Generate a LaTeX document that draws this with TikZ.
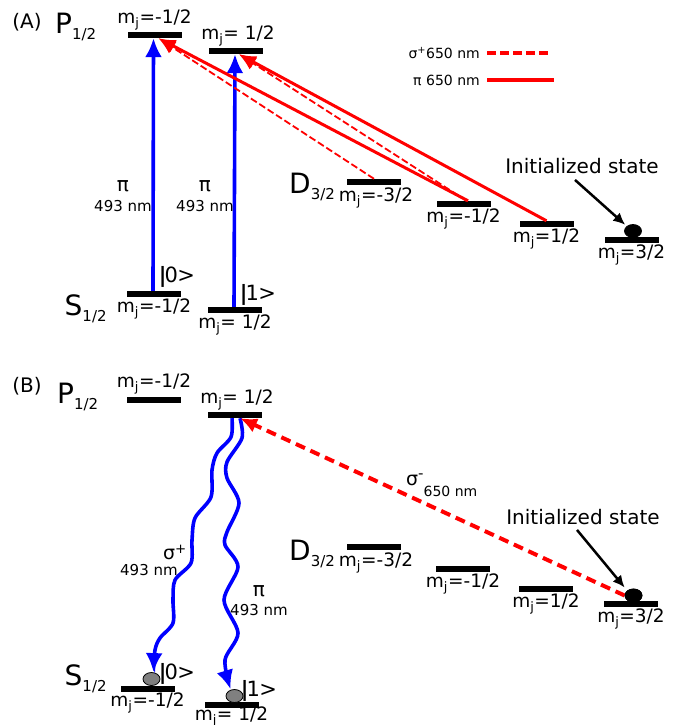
\documentclass[tikz,border=0pt]{standalone}
\usepackage{fontspec}
\setmainfont{DejaVu Sans}
\usetikzlibrary{arrows.meta,shapes.geometric}
\newcommand{\fs}[1]{\fontsize{#1}{#1}\selectfont}
\newcommand{\mjtxt}[1]{m\textsubscript{j}#1}
\newcommand{\termtxt}[2]{{\fs{28}#1}\raisebox{-6pt}{\fs{15}#2}}
\newcommand{\kettxt}[1]{{\fs{21}{\bfseries |}\kern-2pt#1\kern-0.5pt>}}
\begin{document}
\begin{tikzpicture}[x=1pt,y=-1pt,
  bar/.style={rectangle,fill=black,inner sep=0pt,minimum width=54pt,minimum height=6pt},
  mjl/.style={inner sep=0pt,anchor=base,font=\fs{18.5}},
  term/.style={inner sep=0pt,anchor=base west},
  txt/.style={inner sep=0pt},
  blu/.style={draw=blue,line width=3.6pt},
  bluetip/.style={-{Latex[length=19pt,width=17pt]}},
  redsolid/.style={draw=red,line width=3pt,-{Latex[length=17pt,width=14pt]}},
  reddash/.style={draw=red,line width=1.8pt,dash pattern=on 7pt off 3pt,-{Latex[length=17pt,width=14pt]}},
  ball/.style={ellipse,draw=black,line width=0.8pt,inner sep=0pt,minimum width=17pt,minimum height=13pt},
  initarrow/.style={draw=black,line width=2.5pt,-{Latex[length=12pt,width=11pt]},shorten >=2pt}
]
\useasboundingbox (0,0) rectangle (678,725);

% ================= (A) =================
\node[txt,font=\fs{20}] (tA) at (27,22) {(A)};
\node[term] (PAt) at (55,34) {\termtxt{P}{1/2}};
\node[term] (SAt) at (64.5,315) {\termtxt{S}{1/2}};
\node[term] (DAt) at (289,193) {\termtxt{D}{3/2}};

\node[bar] (PA1) at (154.5,35) {};
\node[bar] (PA2) at (236,51) {};
\node[bar] (SA1) at (154,294) {};
\node[bar] (SA2) at (235,310) {};
\node[bar] (DA1) at (374,182) {};
\node[bar] (DA2) at (463.5,204) {};
\node[bar] (DA3) at (546.5,224) {};
\node[bar] (DA4) at (631.5,240) {};

\node[mjl] (lPA1) at ([yshift=8.5pt]PA1.north) {\mjtxt{=-1/2}};
\node[mjl] (lPA2) at ([yshift=8.5pt,xshift=2pt]PA2.north) {\mjtxt{= 1/2}};
\node[mjl] (lSA1) at ([yshift=-15.5pt]SA1.south) {\mjtxt{=-1/2}};
\node[mjl] (lSA2) at ([yshift=-15.5pt]SA2.south) {\mjtxt{= 1/2}};
\node[mjl] (lDA1) at ([yshift=-16pt,xshift=2pt]DA1.south) {\mjtxt{=-3/2}};
\node[mjl] (lDA2) at ([yshift=-15.5pt]DA2.south) {\mjtxt{=-1/2}};
\node[mjl] (lDA3) at ([yshift=-15.5pt]DA3.south) {\mjtxt{=1/2}};
\node[mjl] (lDA4) at ([yshift=-15.5pt]DA4.south) {\mjtxt{=3/2}};

% legend
\node[txt,anchor=east,font=\fs{14}] (legS) at (480,53) {σ\textsuperscript{+}650 nm};
\coordinate (legS1) at (487,53);
\coordinate (legS2) at (551,53);
\draw[red,line width=4pt,dash pattern=on 9pt off 4pt] (legS1) -- (legS2);
\node[txt,anchor=east,font=\fs{14}] (legP) at (480,80) {π 650 nm};
\coordinate (legP1) at (487,80);
\coordinate (legP2) at (554,80);
\draw[red,line width=4pt] (legP1) -- (legP2);

% blue pi transitions
\draw[blu,bluetip] ([xshift=-1pt]SA1.north) -- ([xshift=-1pt]PA1.south);
\draw[blu,bluetip] ([xshift=-1pt]SA2.north) -- ([xshift=-1pt]PA2.south);
\node[txt,align=center,font=\fs{15},anchor=north] (piA1) at (123,180) {{\fs{20}π}\\[5pt]493 nm};
\node[txt,align=center,font=\fs{15},anchor=north] (piA2) at (205,180) {{\fs{20}π}\\[5pt]493 nm};

% red transitions
\draw[reddash] (DA1.north) -- ([xshift=4pt]PA1.south);
\draw[redsolid] ([xshift=4.5pt]DA2.north) -- ([xshift=4pt]PA1.south);
\draw[reddash] ([xshift=3pt]DA2.north) -- ([xshift=3pt]PA2.south);
\draw[redsolid] (DA3.north) -- ([xshift=3pt]PA2.south);

% kets
\node[txt] (k0A) at (177,277) {\kettxt{0}};
\node[txt] (k1A) at (258,295) {\kettxt{1}};

% initialized state
\node[txt,font=\fs{20}] (initA) at (582,166) {Initialized state};
\node[ball,fill=black] (ballA) at (633,231) {};
\draw[initarrow] ([xshift=-7pt,yshift=-6pt]initA.south) -- (ballA.north west);

% ================= (B) =================
\node[txt,font=\fs{20}] (tB) at (27,386) {(B)};
\node[term] (PBt) at (57,403) {\termtxt{P}{1/2}};
\node[term] (SBt) at (64.5,685) {\termtxt{S}{1/2}};
\node[term] (DBt) at (289,560) {\termtxt{D}{3/2}};

\node[bar] (PB1) at (154,400) {};
\node[bar] (PB2) at (235,415) {};
\node[bar] (SB1) at (147.5,689) {};
\node[bar] (SB2) at (231.5,705) {};
\node[bar] (DB1) at (374,547) {};
\node[bar] (DB2) at (463,569) {};
\node[bar] (DB3) at (546,589) {};
\node[bar] (DB4) at (631,604) {};

\node[mjl] (lPB1) at ([yshift=9pt]PB1.north) {\mjtxt{=-1/2}};
\node[mjl] (lPB2) at ([yshift=8.5pt,xshift=2pt]PB2.north) {\mjtxt{= 1/2}};
\node[mjl] (lSB1) at ([yshift=-14.5pt]SB1.south) {\mjtxt{=-1/2}};
\node[mjl] (lSB2) at ([yshift=-12.5pt]SB2.south) {\mjtxt{= 1/2}};
\node[mjl] (lDB1) at ([yshift=-16pt,xshift=2pt]DB1.south) {\mjtxt{=-3/2}};
\node[mjl] (lDB2) at ([yshift=-15.5pt]DB2.south) {\mjtxt{=-1/2}};
\node[mjl] (lDB3) at ([yshift=-15.5pt]DB3.south) {\mjtxt{=1/2}};
\node[mjl] (lDB4) at ([yshift=-15.5pt]DB4.south) {\mjtxt{=3/2}};

% balls
\node[ball,fill=gray] (gb1) at (151.5,679) {};
\node[ball,fill=gray] (gb2) at (234.5,696) {};

% wavy decays
\coordinate (wL0) at ([xshift=-3pt]PB2.south);
\coordinate (wL1) at ([xshift=2pt]gb1.north);
\draw[blu,-{Latex[length=19pt,width=17pt]}] plot[smooth] coordinates {(wL0) (231,437) (217,453) (212,470) (211,497) (195,518) (192,540) (191,563) (175,580) (173,600) (173,623) (160,638) (155,650) (wL1)};
\coordinate (wR0) at ([xshift=5pt]PB2.south);
\coordinate (wR1) at ([xshift=-4pt]gb2.north);
\draw[blu,-{Latex[length=19pt,width=17pt]}] plot[smooth] coordinates {(wR0) (242,438) (227,462) (227,478) (239,503) (227,532) (225,545) (238,567) (224,600) (238,633) (225,660) (wR1)};

\node[txt,align=left,font=\fs{15},anchor=north west] (sgB) at (120,545) {\hspace*{43pt}{\fs{19}σ\textsuperscript{+}}\\[1pt]493 nm};
\node[txt,align=center,font=\fs{15},anchor=north] (piB) at (259,585) {{\fs{20}π}\\[4pt]493 nm};

% sigma- 650
\node[ball,fill=black] (ballB) at (633.5,595.5) {};
\draw[red,line width=4pt,dash pattern=on 10pt off 6pt,-{Latex[length=17pt,width=15pt]}] (ballB.west) -- ([xshift=5pt]PB2.south);
\node[ball,fill=black] at (ballB) {};
\node[txt,anchor=base west] (smB) at (406,485) {{\fs{19}σ}\raisebox{7pt}{\fs{15}-}\raisebox{-11pt}{\fs{14}650 nm}};

\node[txt] (k0B) at (177,674) {\kettxt{0}};
\node[txt] (k1B) at (259,691) {\kettxt{1}};

\node[txt,font=\fs{20}] (initB) at (583,517) {Initialized state};
\draw[initarrow,shorten >=4pt] ([xshift=-6pt,yshift=-5pt]initB.south) -- (ballB.north west);
\end{tikzpicture}
\end{document}
